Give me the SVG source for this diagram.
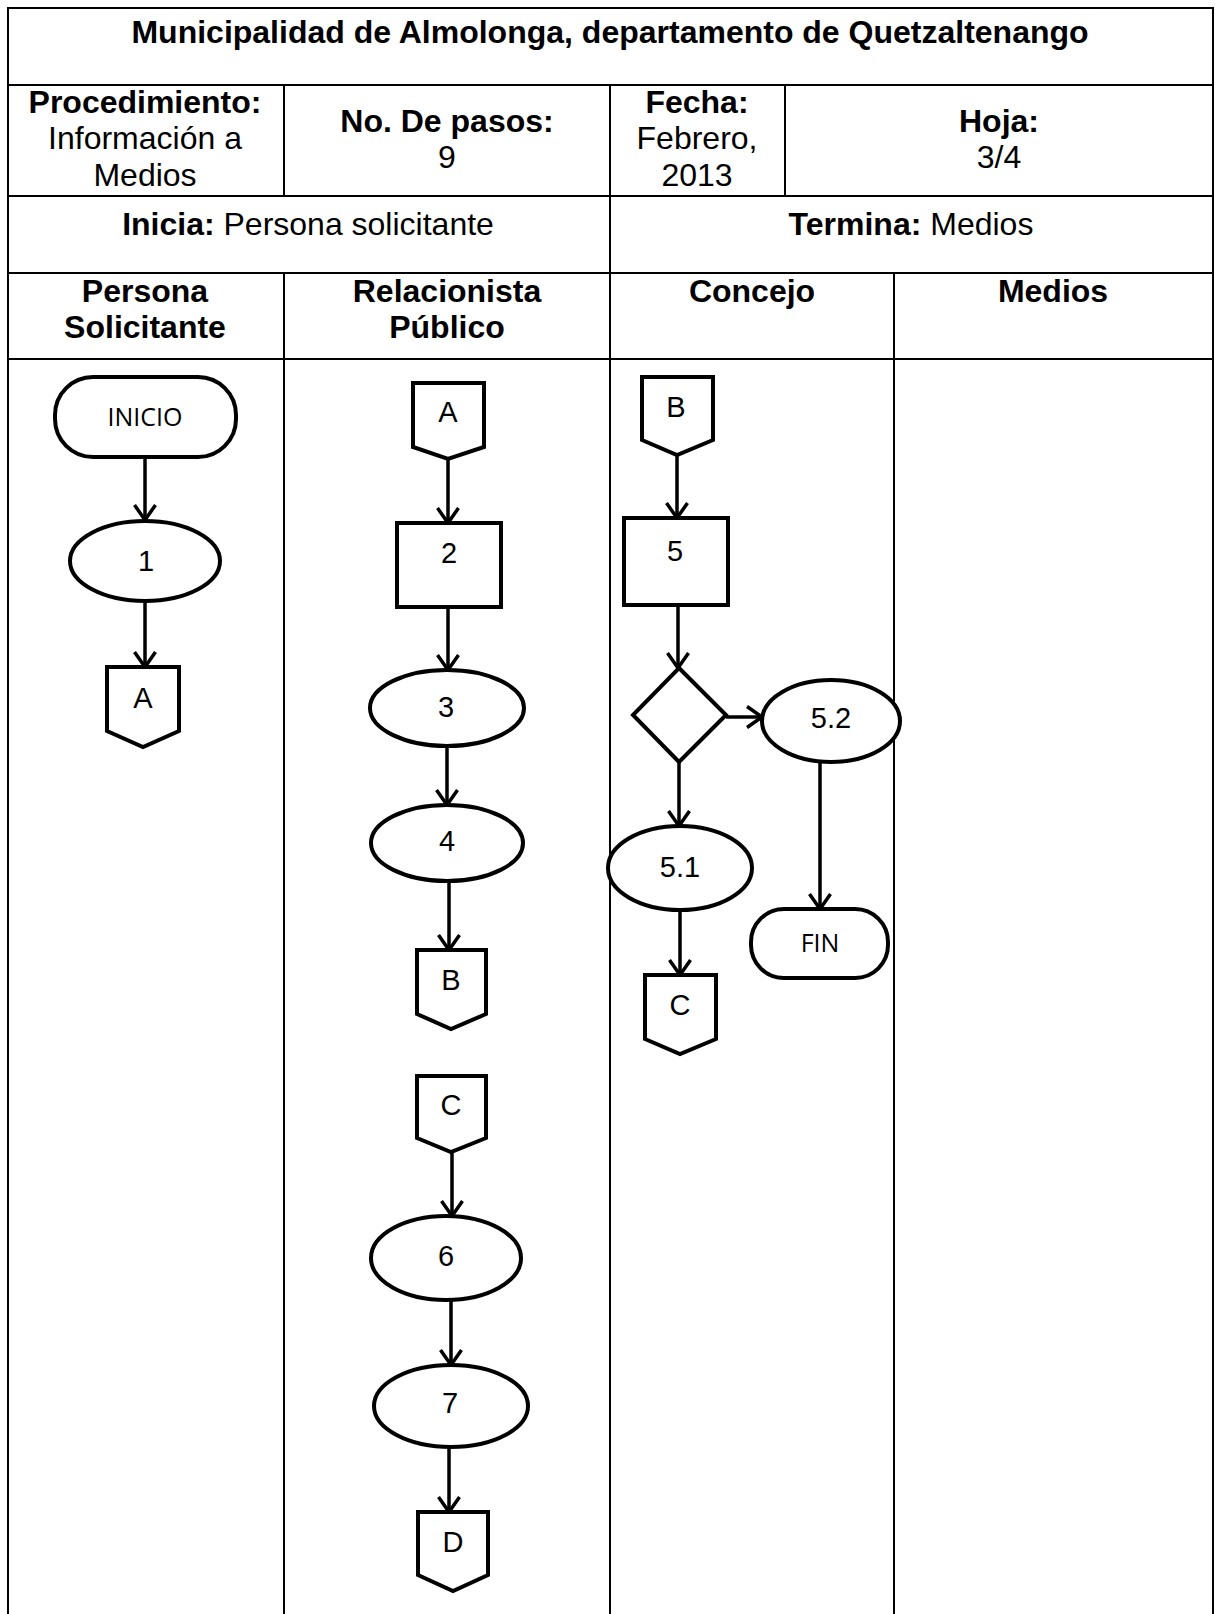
<svg xmlns="http://www.w3.org/2000/svg" width="1215" height="1614" viewBox="0 0 1215 1614">
<style>
.grid{stroke:#000;stroke-width:2;fill:none}
.shape{stroke:#000;stroke-width:4;fill:#fff}
.conn{stroke:#000;stroke-width:3.5;fill:none}
.hb{font-family:"Liberation Sans",Arial,sans-serif;font-weight:bold;font-size:32px;text-anchor:middle;fill:#000}
.hr{font-family:"Liberation Sans",Arial,sans-serif;font-size:32px;text-anchor:middle;fill:#000}
.nt{font-family:"Liberation Sans",Arial,sans-serif;font-size:29px;text-anchor:middle;fill:#000}
.tt{font-family:"Open Sans","Liberation Sans",sans-serif;font-size:25px;text-anchor:middle;fill:#000}
</style>
<defs>
<marker id="arr" viewBox="0 0 18 24" refX="16" refY="12" markerWidth="18" markerHeight="24" markerUnits="userSpaceOnUse" orient="auto">
<path d="M1,1.5 L16,12 L1,22.5" fill="none" stroke="#000" stroke-width="3.5"/>
</marker>
</defs>
<rect width="1215" height="1614" fill="#fff"/>
<g id="table">
<rect class="grid" x="8" y="8" width="1205" height="1610"/>
<line class="grid" x1="8" y1="85" x2="1213" y2="85"/>
<line class="grid" x1="8" y1="196" x2="1213" y2="196"/>
<line class="grid" x1="8" y1="273" x2="1213" y2="273"/>
<line class="grid" x1="8" y1="359" x2="1213" y2="359"/>
<line class="grid" x1="284" y1="85" x2="284" y2="196"/>
<line class="grid" x1="610" y1="85" x2="610" y2="1614"/>
<line class="grid" x1="785" y1="85" x2="785" y2="196"/>
<line class="grid" x1="284" y1="273" x2="284" y2="1614"/>
<line class="grid" x1="894" y1="273" x2="894" y2="1614"/>
<text class="hb" x="610" y="43">Municipalidad de Almolonga, departamento de Quetzaltenango</text>
<text class="hb" x="145" y="113">Procedimiento:</text>
<text class="hr" x="145" y="149">Información a</text>
<text class="hr" x="145" y="186">Medios</text>
<text class="hb" x="447" y="132">No. De pasos:</text>
<text class="hr" x="447" y="168">9</text>
<text class="hb" x="697" y="113">Fecha:</text>
<text class="hr" x="697" y="149">Febrero,</text>
<text class="hr" x="697" y="186">2013</text>
<text class="hb" x="999" y="132">Hoja:</text>
<text class="hr" x="999" y="168">3/4</text>
<text class="hr" x="308" y="235"><tspan font-weight="bold">Inicia:</tspan> Persona solicitante</text>
<text class="hr" x="911" y="235"><tspan font-weight="bold">Termina:</tspan> Medios</text>
<text class="hb" x="145" y="302">Persona</text>
<text class="hb" x="145" y="338">Solicitante</text>
<text class="hb" x="447" y="302">Relacionista</text>
<text class="hb" x="447" y="338">Público</text>
<text class="hb" x="752" y="302">Concejo</text>
<text class="hb" x="1053" y="302">Medios</text>
</g>
<g id="connectors">
<line class="conn" x1="145" y1="457" x2="145" y2="520" marker-end="url(#arr)"/>
<line class="conn" x1="145" y1="602" x2="145" y2="667" marker-end="url(#arr)"/>
<line class="conn" x1="448" y1="459" x2="448" y2="523" marker-end="url(#arr)"/>
<line class="conn" x1="448" y1="607" x2="448" y2="670" marker-end="url(#arr)"/>
<line class="conn" x1="447" y1="747" x2="447" y2="805" marker-end="url(#arr)"/>
<line class="conn" x1="449" y1="881" x2="449" y2="950" marker-end="url(#arr)"/>
<line class="conn" x1="452" y1="1152" x2="452" y2="1216" marker-end="url(#arr)"/>
<line class="conn" x1="451" y1="1300" x2="451" y2="1365" marker-end="url(#arr)"/>
<line class="conn" x1="449" y1="1447" x2="449" y2="1512" marker-end="url(#arr)"/>
<line class="conn" x1="677" y1="455" x2="677" y2="518" marker-end="url(#arr)"/>
<line class="conn" x1="678" y1="605" x2="678" y2="668" marker-end="url(#arr)"/>
<line class="conn" x1="726" y1="717" x2="762" y2="717" marker-end="url(#arr)"/>
<line class="conn" x1="679" y1="762" x2="679" y2="826" marker-end="url(#arr)"/>
<line class="conn" x1="680" y1="910" x2="680" y2="975" marker-end="url(#arr)"/>
<line class="conn" x1="820" y1="763" x2="820" y2="909" marker-end="url(#arr)"/>
</g>
<g id="inicio"><rect class="shape" x="55" y="377" width="181" height="80" rx="38"/><text class="tt" x="145" y="426">INICIO</text></g>
<g id="p1"><ellipse class="shape" cx="145" cy="561" rx="75" ry="40"/><text class="nt" x="146" y="571">1</text></g>
<g id="offA1"><path class="shape" d="M107,667 H179 V731 L143,747 L107,731 Z"/><text class="nt" x="143" y="708">A</text></g>
<g id="offA2"><path class="shape" d="M413,383 H484 V447 L448,459 L413,447 Z"/><text class="nt" x="448" y="422">A</text></g>
<g id="p2"><rect class="shape" x="397" y="523" width="104" height="84"/><text class="nt" x="449" y="563">2</text></g>
<g id="p3"><ellipse class="shape" cx="447" cy="708" rx="77" ry="38"/><text class="nt" x="446" y="717">3</text></g>
<g id="p4"><ellipse class="shape" cx="447" cy="843" rx="76" ry="38"/><text class="nt" x="447" y="851">4</text></g>
<g id="offB1"><path class="shape" d="M417,950 H486 V1014 L451,1029 L417,1014 Z"/><text class="nt" x="451" y="990">B</text></g>
<g id="offC2"><path class="shape" d="M417,1076 H486 V1138 L451,1152 L417,1138 Z"/><text class="nt" x="451" y="1115">C</text></g>
<g id="p6"><ellipse class="shape" cx="446" cy="1258" rx="75" ry="42"/><text class="nt" x="446" y="1266">6</text></g>
<g id="p7"><ellipse class="shape" cx="451" cy="1406" rx="77" ry="41"/><text class="nt" x="450" y="1413">7</text></g>
<g id="offD"><path class="shape" d="M418,1512 H488 V1575 L453,1591 L418,1575 Z"/><text class="nt" x="453" y="1552">D</text></g>
<g id="offB2"><path class="shape" d="M642,377 H713 V440 L677,455 L642,440 Z"/><text class="nt" x="676" y="417">B</text></g>
<g id="p5"><rect class="shape" x="624" y="518" width="104" height="87"/><text class="nt" x="675" y="561">5</text></g>
<g id="decision"><path class="shape" d="M679,668 L726,715 L679,762 L633,715 Z"/></g>
<g id="p52"><ellipse class="shape" cx="831" cy="721" rx="69" ry="41"/><text class="nt" x="831" y="728">5.2</text></g>
<g id="p51"><ellipse class="shape" cx="680" cy="868" rx="72" ry="42"/><text class="nt" x="680" y="877">5.1</text></g>
<g id="offC1"><path class="shape" d="M645,975 H716 V1039 L680,1054 L645,1039 Z"/><text class="nt" x="680" y="1015">C</text></g>
<g id="fin"><rect class="shape" x="751" y="909" width="137" height="69" rx="33"/><text class="tt" x="820" y="952">FIN</text></g>
</svg>
